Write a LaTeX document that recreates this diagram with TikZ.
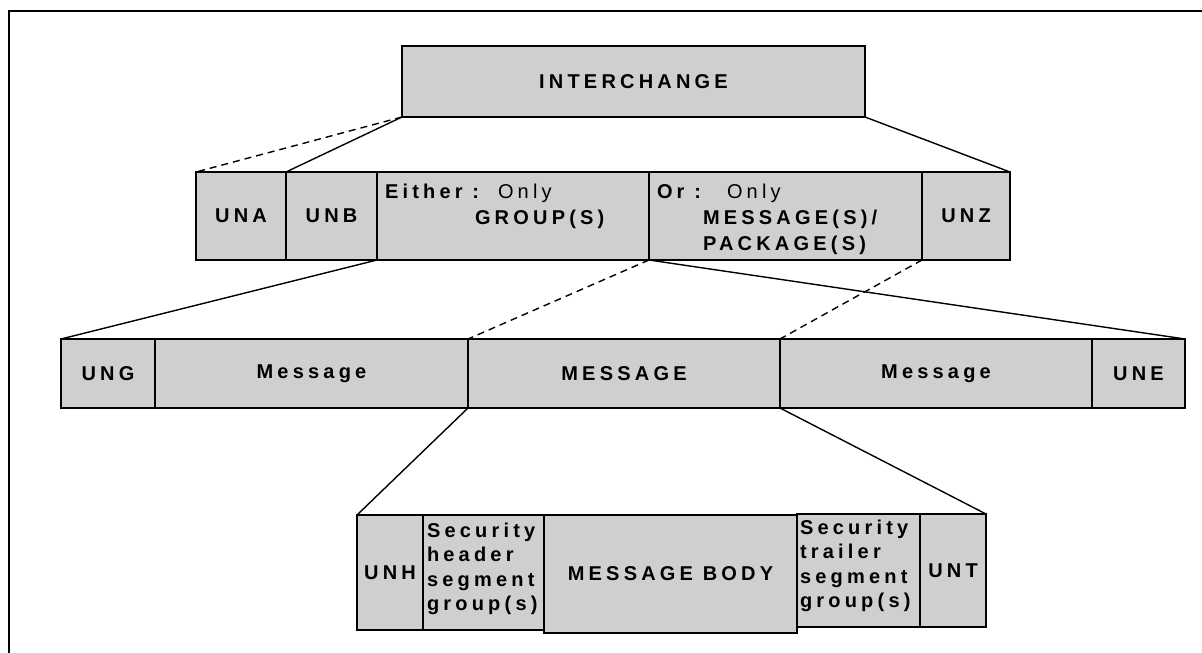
\documentclass[tikz,border=0pt]{standalone}
\usepackage{fontspec}
\setmainfont{Liberation Sans}
\newfontfamily\spacedfont[LetterSpace=21]{Liberation Sans}
\definecolor{boxgray}{RGB}{207,207,207}
\tikzset{
  seg/.style={draw=black, fill=boxgray, line width=1.6pt, inner sep=0pt, outer sep=0pt,
    anchor=north west, font=\spacedfont\bfseries\fontsize{20}{24}\selectfont},
  lbl/.style={inner sep=0pt, outer sep=0pt, anchor=base west,
    font=\spacedfont\bfseries\fontsize{20}{24}\selectfont},
  lblr/.style={inner sep=0pt, outer sep=0pt, anchor=base west,
    font=\spacedfont\fontsize{20}{24}\selectfont},
  link/.style={line width=1.4pt},
  dlink/.style={link, dash pattern=on 7pt off 5pt}
}
\begin{document}
\begin{tikzpicture}[x=1pt,y=-1pt]
\useasboundingbox (0,0) rectangle (1202,653);
\draw[line width=2.5pt] (9,653) -- (9,11) -- (1202,11);
% level 0
\node[seg, minimum width=463pt, minimum height=71pt] (inter) at (402,46) {INTERCHANGE};
% level 1
\node[seg, minimum width=90pt, minimum height=88pt] (una) at (196,172) {UNA};
\node[seg, minimum width=91pt, minimum height=88pt] (unb) at (286,172) {UNB};
\node[seg, minimum width=272pt, minimum height=88pt] (either) at (377,172) {};
\node[seg, minimum width=273pt, minimum height=88pt] (or) at (649,172) {};
\node[seg, minimum width=88pt, minimum height=88pt] (unz) at (922,172) {UNZ};
\node[lbl] (eitherlbl) at (385,198) {Either :};
\node[lblr] (eitheronly) at (498,198) {Only};
\node[lbl] (groups) at (475,224) {GROUP(S)};
\node[lbl] (orlbl) at (657,198) {Or :};
\node[lblr] (oronly) at (727,198) {Only};
\node[lbl] (msgs) at (703,224) {MESSAGE(S)/};
\node[lbl] (pkgs) at (703,250) {PACKAGE(S)};
% level 2
\node[seg, minimum width=94pt, minimum height=69pt] (ung) at (61,339) {UNG};
\node[seg, minimum width=313pt, minimum height=69pt] (msga) at (155,339) {Message};
\node[seg, minimum width=312pt, minimum height=69pt] (msgm) at (468,339) {MESSAGE};
\node[seg, minimum width=312pt, minimum height=69pt] (msgb) at (780,339) {Message};
\node[seg, minimum width=93pt, minimum height=69pt] (une) at (1092,339) {UNE};
% level 3
\node[seg, minimum width=66pt, minimum height=115pt] (unh) at (357,515) {UNH};
\node[seg, minimum width=121pt, minimum height=115pt] (sech) at (423,515) {};
\node[seg, minimum width=253pt, minimum height=118pt] (body) at (544,515) {MESSAGE BODY};
\node[seg, minimum width=123pt, minimum height=113pt] (sect) at (797,514) {};
\node[seg, minimum width=66pt, minimum height=113pt] (unt) at (920,514) {UNT};
\node[lbl] (sech1) at (427,537) {Security};
\node[lbl] (sech2) at (427,561) {header};
\node[lbl] (sech3) at (427,586) {segment};
\node[lbl] (sech4) at (427,610) {group(s)};
\node[lbl] (sect1) at (800,534) {Security};
\node[lbl] (sect2) at (800,558) {trailer};
\node[lbl] (sect3) at (800,583) {segment};
\node[lbl] (sect4) at (800,607) {group(s)};
% connectors
\draw[dlink] (inter.south west) -- (una.north west);
\draw[link] (inter.south west) -- (unb.north west);
\draw[link] (inter.south east) -- (unz.north east);
\draw[link] (either.south west) -- (ung.north west);
\draw[dlink] (or.south west) -- (msgm.north west);
\draw[link] (or.south west) -- (une.north east);
\draw[dlink] (unz.south west) -- (msgb.north west);
\draw[link] (msgm.south west) -- (unh.north west);
\draw[link] (msgm.south east) -- (unt.north east);
\end{tikzpicture}
\end{document}
